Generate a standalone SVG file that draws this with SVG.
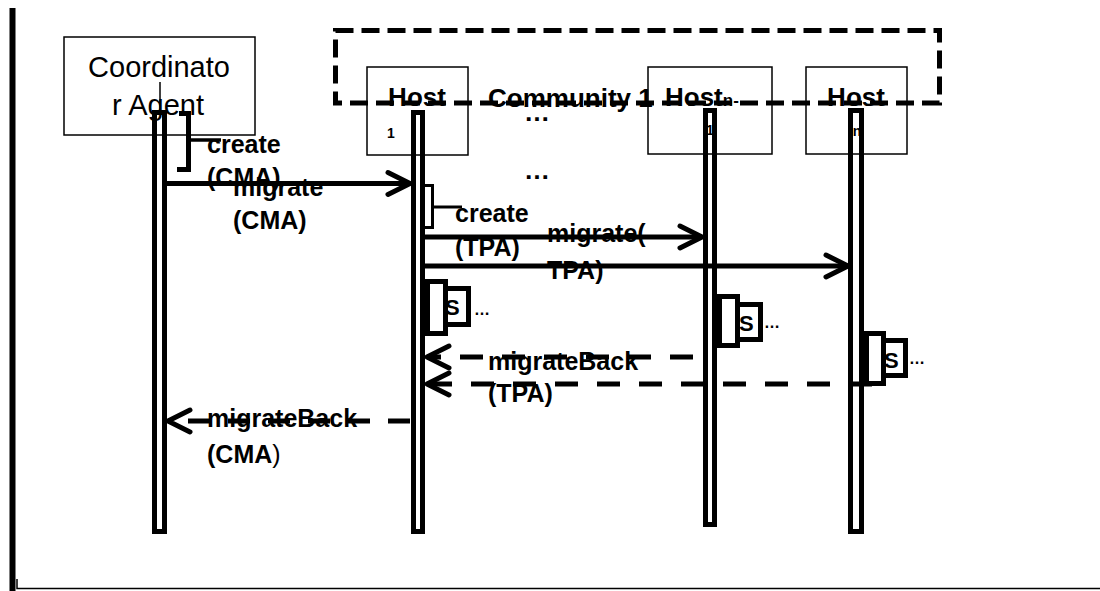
<svg xmlns="http://www.w3.org/2000/svg" width="1100" height="591" viewBox="0 0 1100 591">
<defs>
<style>
.box{fill:#fff;stroke:#000;stroke-width:1.5}
.life{fill:none;stroke:#000;stroke-width:5}
.exec{fill:#fff;stroke:#000;stroke-width:5}
.msg{fill:none;stroke:#000;stroke-width:5}
.d1{stroke-dasharray:23 19}
.d2{stroke-dasharray:22 18}
.brk{fill:none;stroke:#000}
.comm{fill:none;stroke:#000;stroke-width:5;stroke-dasharray:18 8}
.lbl{font-family:"Liberation Sans",Arial,sans-serif;font-weight:bold;font-size:25px;fill:#000}
.name{font-family:"Liberation Sans",Arial,sans-serif;font-size:29px;fill:#000}
.host{font-family:"Liberation Sans",Arial,sans-serif;font-weight:bold;font-size:26px;fill:#000}
.sm{font-family:"Liberation Sans",Arial,sans-serif;font-weight:bold;font-size:14px;fill:#000}
.s{font-family:"Liberation Sans",Arial,sans-serif;font-weight:bold;font-size:22px;fill:#000}
.ell{font-family:"Liberation Sans",Arial,sans-serif;font-weight:bold;font-size:16px;fill:#000}
</style>
<marker id="arr" markerUnits="userSpaceOnUse" markerWidth="32" markerHeight="32" viewBox="0 -16 32 32" refX="25" refY="0" orient="auto">
<path d="M3,-11 L25,0 L3,11" fill="none" stroke="#000" stroke-width="5" stroke-dasharray="none" stroke-linecap="round" stroke-linejoin="round"/>
</marker>
</defs>

<g id="frame">
<path d="M12.5,8 V591" stroke="#000" stroke-width="6" fill="none"/>
<path d="M17,579 V588.5 H1100" stroke="#000" stroke-width="1.5" fill="none"/>
</g>

<g id="coordinator">
<rect class="box" x="64" y="37" width="191" height="98"/>
<text class="name" x="159" y="77" text-anchor="middle">Coordinato</text>
<text class="name" x="158" y="115" text-anchor="middle">r Agent</text>
<path d="M160,82 V112" stroke="#000" stroke-width="1.5"/>
<rect class="life" x="154.5" y="112.5" width="10" height="419"/>
<path class="brk" d="M179,113.5 H188.5 V169.5 H177" stroke-width="5"/>
<path class="brk" d="M189,140 H221" stroke-width="3.5"/>
</g>

<g id="host1">
<rect class="box" x="367" y="67" width="101" height="88"/>
<text class="host" x="417" y="106" text-anchor="middle">Host</text>
<text class="sm" x="387" y="138" font-size="17">1</text>
<rect class="life" x="413.5" y="112.5" width="9" height="419"/>
<path class="brk" d="M424,185.5 H432.5 V227.5 H424" stroke-width="3"/>
<path class="brk" d="M433,207 H462" stroke-width="3"/>
<rect class="exec" x="427.5" y="281.5" width="18" height="52"/>
<rect class="exec" x="445.5" y="288.5" width="23" height="36"/>
<text class="s" x="445" y="315">S</text>
<text class="ell" x="474" y="315">…</text>
</g>

<g id="hostn1">
<rect class="box" x="648" y="67" width="124" height="87"/>
<text class="host" x="665" y="106">Host<tspan font-size="17">n-</tspan></text>
<rect class="life" x="705.5" y="110.5" width="9" height="414"/>
<text class="sm" x="710" y="135" text-anchor="middle">1</text>
<rect class="exec" x="719.5" y="296.5" width="18" height="49"/>
<rect class="exec" x="737.5" y="304.5" width="23" height="35"/>
<text class="s" x="739" y="331">S</text>
<text class="ell" x="764" y="328">…</text>
</g>

<g id="hostn">
<rect class="box" x="806" y="67" width="101" height="87"/>
<text class="host" x="856" y="106" text-anchor="middle">Host</text>
<rect class="life" x="850.5" y="110.5" width="11" height="421"/>
<text class="sm" x="857" y="136" text-anchor="middle">n</text>
<rect class="exec" x="866.5" y="333.5" width="17" height="50"/>
<rect class="exec" x="883.5" y="340.5" width="22" height="35"/>
<text class="s" x="884" y="368">S</text>
<text class="ell" x="909" y="364">…</text>
</g>

<g id="community">
<rect class="comm" x="335.5" y="30.5" width="604" height="72.5"/>
<text class="host" x="488" y="107" font-size="27">Community 1</text>
<text class="host" x="524" y="121" font-size="28">…</text>
<text class="host" x="524" y="179" font-size="28">…</text>
</g>

<g id="labels">
<text class="lbl" x="207" y="153">create</text>
<text class="lbl" x="207" y="186">(CMA)</text>
<text class="lbl" x="233" y="196">migrate</text>
<text class="lbl" x="233" y="229">(CMA)</text>
<text class="lbl" x="455" y="222">create</text>
<text class="lbl" x="455" y="256">(TPA)</text>
<text class="lbl" x="547" y="242">migrate(</text>
<text class="lbl" x="547" y="279">TPA)</text>
<text class="lbl" x="488" y="370">migrateBack</text>
<text class="lbl" x="488" y="402">(TPA)</text>
<text class="lbl" x="207" y="427">migrateBack</text>
<text class="lbl" x="207" y="463">(CMA<tspan font-weight="normal">)</tspan></text>
</g>

<g id="connectors">
<path class="msg" d="M167,183.5 H410" marker-end="url(#arr)"/>
<path class="msg" d="M425,237 H702" marker-end="url(#arr)"/>
<path class="msg" d="M425,266 H848" marker-end="url(#arr)"/>
<path class="msg d1" d="M693,357 H427" marker-end="url(#arr)"/>
<path class="msg d1" d="M872,384 H427" marker-end="url(#arr)"/>
<path class="msg d2" d="M410,421 H168" marker-end="url(#arr)"/>
</g>
</svg>
